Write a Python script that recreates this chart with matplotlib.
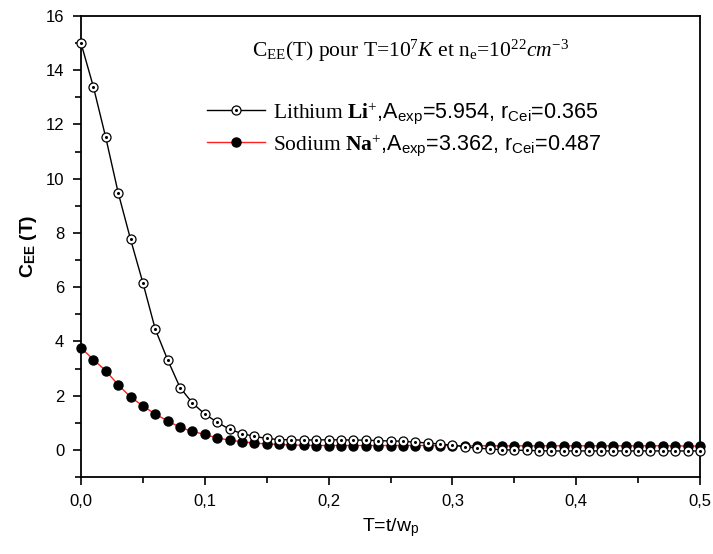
import numpy as np
import matplotlib
matplotlib.use("Agg")
import matplotlib.pyplot as plt
from matplotlib.ticker import MultipleLocator, FuncFormatter
from matplotlib.legend_handler import HandlerTuple

plt.rcParams['font.family'] = 'Liberation Sans'
plt.rcParams['mathtext.fontset'] = 'custom'
plt.rcParams['mathtext.rm'] = 'Liberation Serif'
plt.rcParams['mathtext.it'] = 'Liberation Serif:italic'
plt.rcParams['mathtext.bf'] = 'Liberation Sans:bold'
plt.rcParams['mathtext.bfit'] = 'Liberation Serif:bold'
plt.rcParams['mathtext.sf'] = 'Liberation Sans'

# -------- data --------
t = np.round(np.arange(0, 0.501, 0.01), 2)
lithium = [15.0, 13.39, 11.52, 9.49, 7.77, 6.16, 4.45, 3.32, 2.30, 1.73,
           1.32, 1.02, 0.76, 0.60, 0.50, 0.42, 0.38, 0.37, 0.36, 0.37,
           0.37, 0.37, 0.36, 0.36, 0.34, 0.33, 0.32, 0.28, 0.26, 0.21,
           0.18, 0.11, 0.07, 0.03, 0.01, -0.01, -0.02, -0.03, -0.04, -0.04,
           -0.04, -0.04, -0.04, -0.04, -0.04, -0.04, -0.04, -0.04, -0.04, -0.04, -0.04]
sodium = [3.76, 3.33, 2.92, 2.40, 1.95, 1.62, 1.32, 1.07, 0.83, 0.68,
          0.57, 0.44, 0.36, 0.30, 0.25, 0.22, 0.20, 0.18, 0.17, 0.16,
          0.16, 0.16, 0.16, 0.16, 0.16, 0.16, 0.16, 0.16, 0.16, 0.16,
          0.16, 0.15, 0.15, 0.15, 0.15, 0.15, 0.15, 0.15, 0.15, 0.15,
          0.15, 0.15, 0.15, 0.15, 0.15, 0.15, 0.15, 0.15, 0.15, 0.14, 0.14]

li_label = r'$\mathrm{Lithium}\ \mathbfit{Li}^{+}$,A$_\mathsf{exp}$=5.954, r$_\mathsf{Cei}$=0.365'
na_label = r'$\mathrm{Sodium}\ \mathbfit{Na}^{+}$,A$_\mathsf{exp}$=3.362, r$_\mathsf{Cei}$=0.487'
title = r'C$_\mathrm{EE}$(T) pour T=10$^\mathrm{7}$$\mathit{K}$ et n$_\mathrm{e}$=10$^\mathrm{22}$$\mathit{cm^{-3}}$'

fig = plt.figure(figsize=(7.13, 5.54), dpi=100)
ax = fig.add_axes([81/713, 1-477/554, 619/713, 461/554])

# sodium: red line, black filled circles
na_line, = ax.plot(t, sodium, '-', color='#ff2020', lw=1, marker='o', ms=6.5,
                   mfc='black', mec='black', clip_on=False, zorder=3)
# lithium: black line, open circles with a dot in the middle
li_line, = ax.plot(t, lithium, '-', color='black', lw=1, marker='o', ms=6.5,
                   mfc='white', mec='black', mew=0.9, clip_on=False, zorder=4)
li_dot, = ax.plot(t, lithium, ls='none', marker='o', ms=1.2, color='black',
                  clip_on=False, zorder=5)

ax.set_xlim(0, 0.5)
ax.set_ylim(-1, 16)
ax.xaxis.set_major_locator(MultipleLocator(0.1))
ax.xaxis.set_minor_locator(MultipleLocator(0.05))
ax.yaxis.set_major_locator(MultipleLocator(2))
ax.yaxis.set_minor_locator(MultipleLocator(1))
ax.xaxis.set_major_formatter(FuncFormatter(lambda v, p: ('%.1f' % v).replace('.', ',')))
ax.yaxis.set_major_formatter(FuncFormatter(lambda v, p: '%d' % v))
ax.tick_params(which='both', direction='out', top=False, right=False, width=1.2)
ax.tick_params(which='major', length=6, labelsize=12, pad=6)
ax.tick_params(which='minor', length=4)
for s in ax.spines.values():
    s.set_linewidth(1.3)

ax.set_xlabel(r'T=t/w$_\mathsf{p}$', fontsize=14, labelpad=5)
ax.set_ylabel(r'$\mathbf{C}_{\mathbf{EE}}\ \mathbf{(T)}$', fontsize=14, labelpad=5)

ax.text(0.533, 0.925, title, family='Liberation Serif',
        transform=ax.transAxes, ha='center', va='center', fontsize=15.5)

ax.legend([(li_line, li_dot), na_line], [li_label, na_label],
          handler_map={tuple: HandlerTuple(ndivide=1)},
          loc='upper left', bbox_to_anchor=(0.172, 0.86), frameon=False,
          fontsize=15.5, handlelength=2.7, handletextpad=0.35, labelspacing=0.3)

fig.savefig('out.png', dpi=100)
